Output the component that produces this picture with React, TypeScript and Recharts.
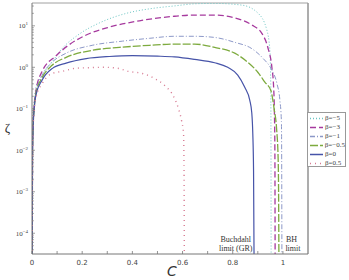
import React from 'react';
import { LineChart, Line, XAxis, YAxis, ReferenceLine, ReferenceDot, Legend } from 'recharts';

// compactness C and anisotropy factor zeta for each beta
const betaM5 = [
  { c: 0.001, z: 2.8e-5 }, { c: 0.002, z: 0.01 }, { c: 0.005, z: 0.056 }, { c: 0.008, z: 0.117 },
  { c: 0.016, z: 0.33 }, { c: 0.04, z: 0.63 }, { c: 0.088, z: 1.58 }, { c: 0.12, z: 2.82 },
  { c: 0.188, z: 6.3 }, { c: 0.268, z: 11.7 }, { c: 0.376, z: 20.0 }, { c: 0.48, z: 26.3 },
  { c: 0.568, z: 30.2 }, { c: 0.648, z: 33.9 }, { c: 0.728, z: 34.7 }, { c: 0.836, z: 31.6 },
  { c: 0.9, z: 20.4 }, { c: 0.936, z: 7.9 }, { c: 0.948, z: 2.57 }, { c: 0.9515, z: 0.41 },
  { c: 0.9525, z: 0.01 }, { c: 0.953, z: 2.5e-5 },
];
const betaM3 = [
  { c: 0.001, z: 2.8e-5 }, { c: 0.002, z: 0.0089 }, { c: 0.005, z: 0.05 }, { c: 0.008, z: 0.105 },
  { c: 0.016, z: 0.28 }, { c: 0.04, z: 0.79 }, { c: 0.096, z: 1.9 }, { c: 0.148, z: 3.5 },
  { c: 0.216, z: 6.0 }, { c: 0.308, z: 9.3 }, { c: 0.428, z: 13.2 }, { c: 0.568, z: 17.0 },
  { c: 0.648, z: 18.2 }, { c: 0.728, z: 18.2 }, { c: 0.808, z: 15.5 }, { c: 0.876, z: 10.5 },
  { c: 0.916, z: 6.6 }, { c: 0.94, z: 3.0 }, { c: 0.956, z: 1.0 }, { c: 0.963, z: 0.33 },
  { c: 0.966, z: 0.091 }, { c: 0.968, z: 0.01 }, { c: 0.969, z: 2.5e-5 },
];
const betaM1 = [
  { c: 0.001, z: 2.8e-5 }, { c: 0.002, z: 0.0079 }, { c: 0.005, z: 0.045 }, { c: 0.008, z: 0.095 },
  { c: 0.016, z: 0.25 }, { c: 0.04, z: 0.63 }, { c: 0.08, z: 1.32 }, { c: 0.136, z: 2.19 },
  { c: 0.24, z: 3.39 }, { c: 0.36, z: 4.27 }, { c: 0.468, z: 5.0 }, { c: 0.568, z: 5.6 },
  { c: 0.648, z: 5.6 }, { c: 0.728, z: 5.25 }, { c: 0.808, z: 4.0 }, { c: 0.876, z: 2.82 },
  { c: 0.92, z: 1.66 }, { c: 0.956, z: 0.85 }, { c: 0.976, z: 0.41 }, { c: 0.988, z: 0.16 },
  { c: 0.994, z: 0.05 }, { c: 0.995, z: 0.01 }, { c: 0.996, z: 2.5e-5 },
];
const betaM05 = [
  { c: 0.001, z: 2.8e-5 }, { c: 0.002, z: 0.0079 }, { c: 0.005, z: 0.045 }, { c: 0.008, z: 0.093 },
  { c: 0.016, z: 0.24 }, { c: 0.04, z: 0.56 }, { c: 0.08, z: 1.12 }, { c: 0.136, z: 1.74 },
  { c: 0.24, z: 2.57 }, { c: 0.348, z: 3.02 }, { c: 0.468, z: 3.39 }, { c: 0.568, z: 3.63 },
  { c: 0.648, z: 3.63 }, { c: 0.728, z: 3.02 }, { c: 0.808, z: 2.19 }, { c: 0.86, z: 1.32 },
  { c: 0.9, z: 0.76 }, { c: 0.928, z: 0.44 }, { c: 0.952, z: 0.275 }, { c: 0.965, z: 0.1 },
  { c: 0.975, z: 0.032 }, { c: 0.981, z: 0.0063 }, { c: 0.983, z: 0.00063 }, { c: 0.984, z: 2.5e-5 },
];
const beta0 = [
  { c: 0.001, z: 2.8e-5 }, { c: 0.002, z: 0.0079 }, { c: 0.005, z: 0.045 }, { c: 0.008, z: 0.089 },
  { c: 0.016, z: 0.22 }, { c: 0.04, z: 0.49 }, { c: 0.08, z: 0.93 }, { c: 0.136, z: 1.26 },
  { c: 0.216, z: 1.62 }, { c: 0.308, z: 1.82 }, { c: 0.4, z: 1.91 }, { c: 0.5, z: 1.86 },
  { c: 0.568, z: 1.78 }, { c: 0.648, z: 1.55 }, { c: 0.728, z: 1.29 }, { c: 0.78, z: 1.0 },
  { c: 0.82, z: 0.65 }, { c: 0.848, z: 0.33 }, { c: 0.868, z: 0.16 }, { c: 0.876, z: 0.079 },
  { c: 0.88, z: 0.025 }, { c: 0.883, z: 0.0032 }, { c: 0.885, z: 2.5e-5 },
];
const betaP05 = [
  { c: 0.001, z: 2.8e-5 }, { c: 0.002, z: 0.0079 }, { c: 0.005, z: 0.04 }, { c: 0.008, z: 0.079 },
  { c: 0.016, z: 0.19 }, { c: 0.04, z: 0.4 }, { c: 0.08, z: 0.71 }, { c: 0.116, z: 0.79 },
  { c: 0.176, z: 0.95 }, { c: 0.228, z: 0.98 }, { c: 0.288, z: 1.0 }, { c: 0.34, z: 0.95 },
  { c: 0.388, z: 0.79 }, { c: 0.44, z: 0.71 }, { c: 0.488, z: 0.54 }, { c: 0.532, z: 0.35 },
  { c: 0.564, z: 0.2 }, { c: 0.584, z: 0.1 }, { c: 0.596, z: 0.052 }, { c: 0.604, z: 0.025 },
  { c: 0.606, z: 0.0032 }, { c: 0.607, z: 2.5e-5 },
];

const seriesNames = ['β=−5', 'β=−3', 'β=−1', 'β=−0.5', 'β=0', 'β=0.5'];
const seriesData = [betaM5, betaM3, betaM1, betaM05, beta0, betaP05];
const seriesColors = ['#6cc6c4', '#a63a9e', '#8c98c8', '#7daa3e', '#4653a8', '#d77a92'];
const seriesDash = ['1 2', '6 3', '5 2 1 2', '8 2', '', '1 4'];
const seriesWidth = [1, 1.3, 1, 1.3, 1.2, 1.4];

const xTicks = [0, 0.1, 0.2, 0.3, 0.4, 0.5, 0.6, 0.7, 0.8, 0.9, 1];
const xLabeled = [0, 0.2, 0.4, 0.6, 0.8, 1];
const yDecades = [1e-4, 1e-3, 1e-2, 1e-1, 1, 10];
const yDecadeExps = ['−4', '−3', '−2', '−1', '0', '1'];
const yMinorMult = [2, 3, 4, 5, 6, 7, 8, 9];
const yMin = 3.16e-5;
const yMax = 35.5;

const notes = [
  { text: 'Buchdahl', c: 0.812, z: 7.0e-5 },
  { text: 'limit (GR)', c: 0.812, z: 4.45e-5 },
  { text: 'BH', c: 1.034, z: 7.0e-5 },
  { text: 'limit', c: 1.04, z: 4.45e-5 },
];

const yTicks = [
  ...yDecades,
  ...[1e-5, ...yDecades].flatMap((d) => yMinorMult.map((m) => d * m)).filter((v) => v > yMin && v < yMax),
];

const axisColor = '#777';

const XTick = (props: any) => {
  const { x, y, payload } = props;
  const v = payload.value;
  const lab = xLabeled.some((t) => Math.abs(t - v) < 1e-9);
  return (
    <g>
      <line x1={x} y1={y} x2={x} y2={y - 3} stroke={axisColor} strokeWidth={0.8} />
      {lab && (
        <text x={x} y={y + 11} textAnchor="middle" fontSize={7} fill="#444" stroke="none" fontFamily="DejaVu Sans">
          {String(v)}
        </text>
      )}
    </g>
  );
};

const YTick = (props: any) => {
  const { x, y, payload } = props;
  const v = payload.value;
  const idx = yDecades.findIndex((d) => Math.abs(d - v) / d < 1e-6);
  const major = idx >= 0;
  return (
    <g>
      <line x1={x} y1={y} x2={x + (major ? 3 : 1.8)} y2={y} stroke={axisColor} strokeWidth={0.7} />
      {major && (
        <text x={x - 4} y={y + 2.5} textAnchor="end" fontSize={7} fill="#444" stroke="none" fontFamily="Liberation Serif">
          <tspan>10</tspan>
          <tspan dy={-3} fontSize={5}>{yDecadeExps[idx]}</tspan>
        </text>
      )}
    </g>
  );
};

const LegendBox = () => (
  <div
    style={{
      width: 39,
      height: 55,
      border: '1px solid #999',
      background: '#fff',
      boxSizing: 'border-box',
      paddingTop: 1,
    }}
  >
    {seriesNames.map((n, i) => (
      <div key={n} style={{ display: 'flex', alignItems: 'center', height: 9, fontFamily: 'Liberation Serif', fontSize: 7, color: '#444' }}>
        <svg width={16} height={9} style={{ display: 'block' }}>
          <line x1={2} y1={4.5} x2={15} y2={4.5} stroke={seriesColors[i]} strokeWidth={seriesWidth[i] + 0.3} strokeDasharray={seriesDash[i] || undefined} />
        </svg>
        <span style={{ marginLeft: 1, lineHeight: '9px' }}>{n}</span>
      </div>
    ))}
  </div>
);

const NoteLabel = (text: string) => (props: any) => {
  const vb = props.viewBox || {};
  const cx = (vb.x ?? 0) + (vb.width ?? 0) / 2;
  const cy = (vb.y ?? 0) + (vb.height ?? 0) / 2;
  return (
    <text x={cx} y={cy + 2.8} textAnchor="middle" fontSize={8} fill="#333" stroke="none" fontFamily="Liberation Serif">
      {text}
    </text>
  );
};

export default function App() {
  return (
    <div style={{ position: 'absolute', left: 0, top: 0, background: '#fff' }}>
      <LineChart width={349} height={280} margin={{ top: 3, right: 41, bottom: 0, left: 0 }}>
        <XAxis
          dataKey="c"
          type="number"
          domain={[0, 1.1]}
          ticks={xTicks}
          interval={0}
          tickSize={0}
          tickMargin={0}
          tick={<XTick />}
          height={26}
          stroke={axisColor}
          allowDataOverflow
          label={{
            content: () => (
              <text x={172} y={276} textAnchor="middle" fontSize={14} fontStyle="italic" fill="#333" fontFamily="DejaVu Sans">
                C
              </text>
            ),
          }}
        />
        <YAxis
          dataKey="z"
          type="number"
          scale="log"
          domain={[yMin, yMax]}
          ticks={yTicks}
          interval={0}
          tickSize={0}
          tickMargin={0}
          tick={<YTick />}
          width={32}
          stroke={axisColor}
          allowDataOverflow
          label={{
            content: () => (
              <text x={7.5} y={132} textAnchor="middle" fontSize={13} fill="#333" fontFamily="Liberation Serif">
                ζ
              </text>
            ),
          }}
        />
        <ReferenceLine y={yMax} stroke="#888" strokeWidth={0.8} />
        <ReferenceLine x={1.1} stroke="#999" strokeWidth={1.6} />
        {seriesData.map((d, i) => (
          <Line
            key={seriesNames[i]}
            data={d}
            dataKey="z"
            name={seriesNames[i]}
            type="monotoneX"
            stroke={seriesColors[i]}
            strokeWidth={seriesWidth[i]}
            strokeDasharray={seriesDash[i] || undefined}
            dot={false}
            activeDot={false}
            isAnimationActive={false}
          />
        ))}
        {notes.map((n) => (
          <ReferenceDot key={n.text} x={n.c} y={n.z} r={0} fill="none" stroke="none" label={{ content: NoteLabel(n.text) }} />
        ))}
        <Legend
          layout="vertical"
          align="center"
          verticalAlign="middle"
          content={() => <LegendBox />}
          wrapperStyle={{ left: 307, top: 112, width: 40, height: 56 }}
        />
      </LineChart>
    </div>
  );
}
